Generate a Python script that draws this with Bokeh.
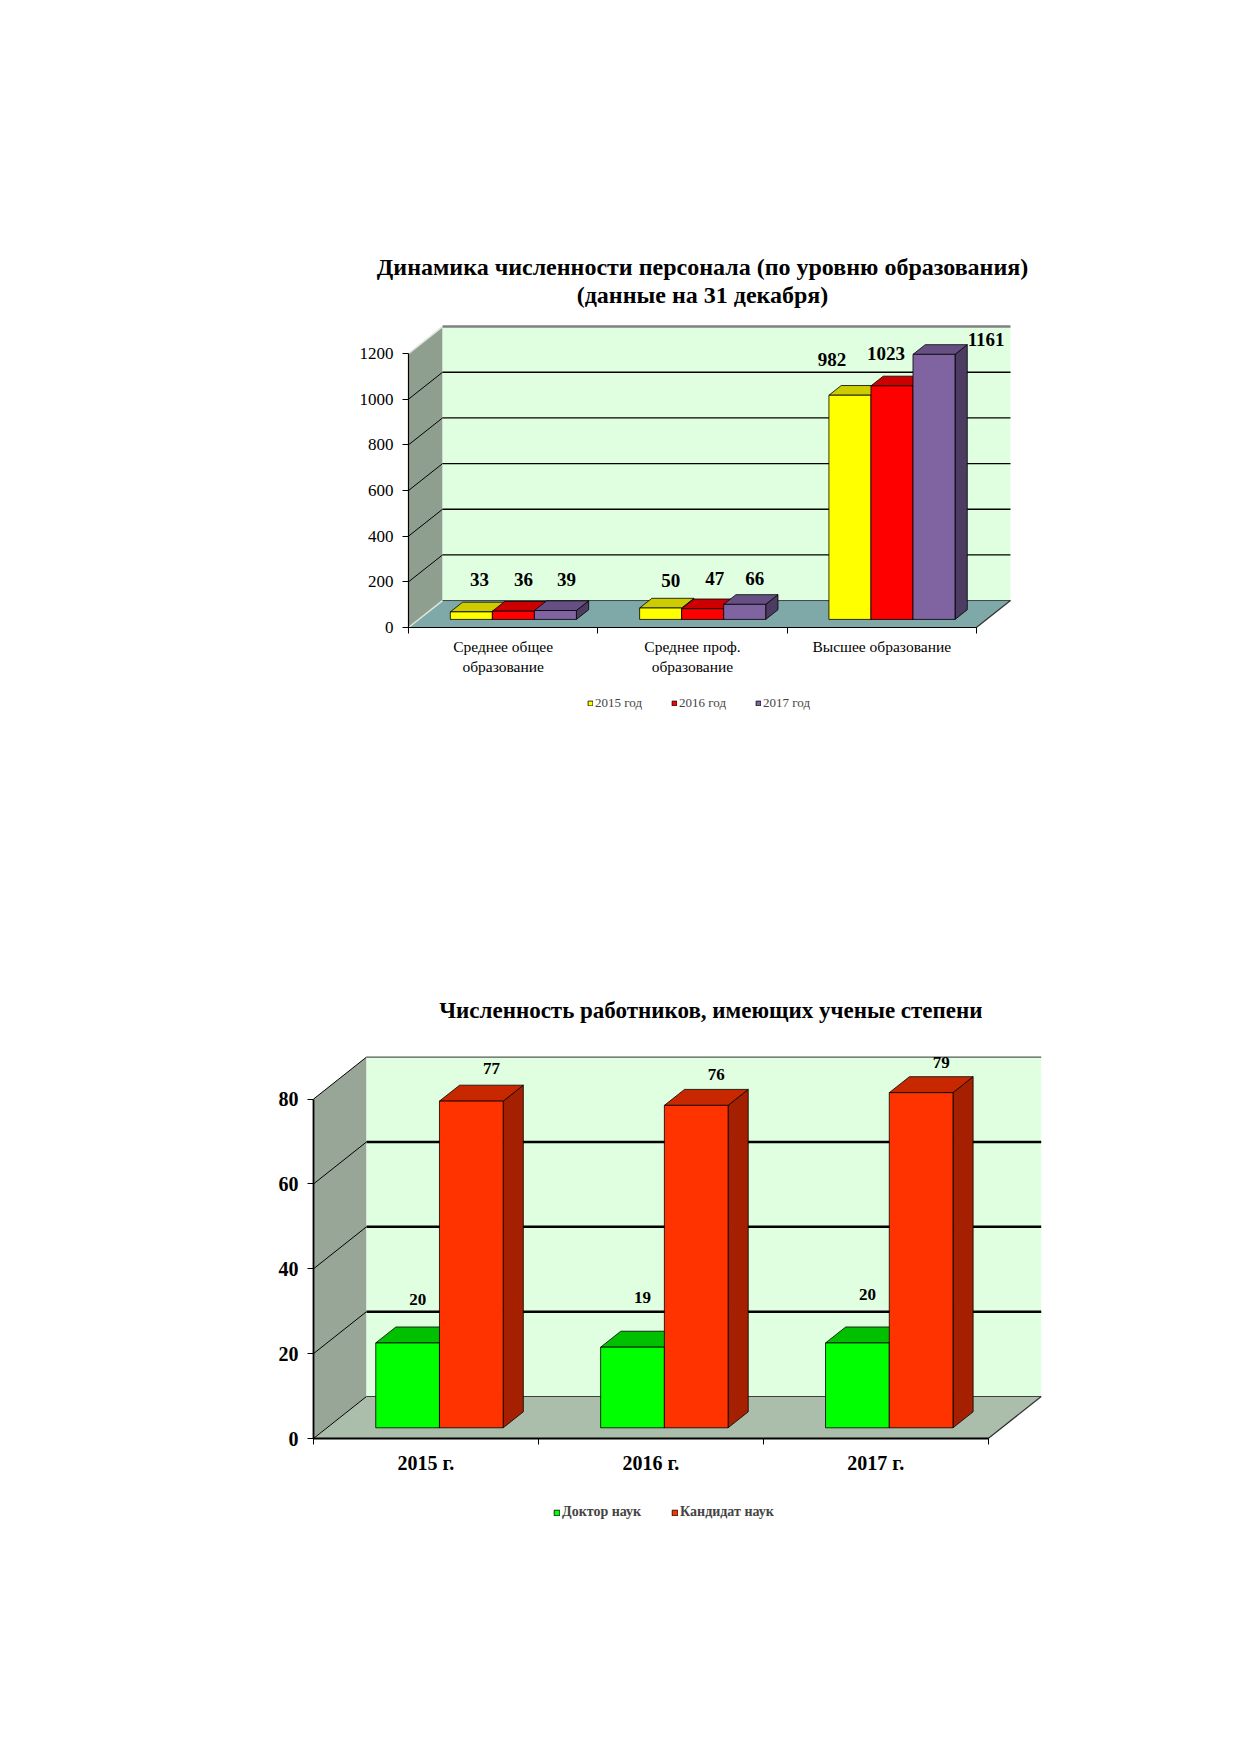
from bokeh.plotting import figure
from bokeh.models import Range1d, FixedTicker, Legend, LegendItem, ColumnDataSource
from bokeh.layouts import column
from bokeh.embed import file_html
from bokeh.resources import INLINE
from bokeh.core.properties import value

# ---------------- data: chart 1 ----------------
edu_titles = ["Динамика численности персонала (по уровню образования)", "(данные на 31 декабря)"]
edu_categories = ["Среднее общее\nобразование", "Среднее проф.\nобразование", "Высшее образование"]
edu_series = ["2015 год", "2016 год", "2017 год"]
edu_2015 = [33, 50, 982]
edu_2016 = [36, 47, 1023]
edu_2017 = [39, 66, 1161]
edu_ticks = [0, 200, 400, 600, 800, 1000, 1200]

# ---------------- data: chart 2 ----------------
deg_titles = ["Численность работников, имеющих ученые степени"]
deg_categories = ["2015 г.", "2016 г.", "2017 г."]
deg_series = ["Доктор наук", "Кандидат наук"]
deg_doctor = [20, 19, 20]
deg_candidate = [77, 76, 79]
deg_ticks = [0, 20, 40, 60, 80]

FONT = "Liberation Serif"

# ---------------- styles / layout ----------------
FRAME_LEFT = 250
FRAME_W = 900

cfg1 = dict(sx=189.3, sy=0.2283, x0_px=158, y0_px=627, fh=760, mbb=80,
            DX=0.18, DY=118, BW=0.222, G=0.167, F=0.3, B=0.36,
            back="#e0ffe0", wall="#8f9f8f", floor="#7fa8a8",
            grid_w=1.3, top_edge="#808080", top_edge_w=2.5, diag_from=1,
            light_edges=True,
            fronts=["#ffff00", "#ff0000", "#8064a2"],
            tops=["#cccc00", "#cc0000", "#665083"],
            sides=["#999900", "#990000", "#4c3c61"],
            lab_dx=[[2, 4, -24], [4, 6, -12], [5, 4, 46]],
            lab_dy=[[-23, -18, -26], [-22, -20, -23], [-21, -16, -5]],
            val_size="19px", tick_size="17px", tick_style="normal",
            cat_size="15.5px", cat_style="normal", cat_standoff=4,
            leg_size="13px", leg_style="normal", leg_glyph=6, leg_spacing=29,
            leg_loc=(337, 49),
            title_size="24px", title_dx=-24, title_dy=[-60, -32], axis_w=1.2)
cfg2 = dict(sx=224.9, sy=4.2425, x0_px=63, y0_px=598, fh=720, mbb=80,
            DX=0.2357, DY=9.9, BW=0.2833, G=0.2167, F=0.255, B=0.38,
            back="#e0ffe0", wall="#98a698", floor="#abbdab",
            grid_w=2.5, top_edge="#303030", top_edge_w=1, diag_from=0,
            light_edges=False,
            fronts=["#00ff00", "#ff3300"],
            tops=["#00c000", "#c82800"],
            sides=["#009900", "#a52000"],
            lab_dx=[[0, 0, 0], [10, 10, 10]],
            lab_dy=[[-27, -34, -32], [-17, -15, -14]],
            val_size="17px", tick_size="20px", tick_style="bold",
            cat_size="20px", cat_style="bold", cat_standoff=7,
            leg_size="14px", leg_style="bold", leg_glyph=7, leg_spacing=30,
            leg_loc=(303, 40),
            title_size="23px", title_dx=7, title_dy=[-47], axis_w=1.8)


def chart3d(titles, categories, series_names, series_values, ticks, c):
    n = len(categories)
    ymax = ticks[-1]
    DX, DY = c["DX"], c["DY"]
    xr = Range1d(-c["x0_px"] / c["sx"], (FRAME_W - c["x0_px"]) / c["sx"])
    yr = Range1d(-(c["fh"] - c["y0_px"]) / c["sy"], c["y0_px"] / c["sy"])
    p = figure(frame_width=FRAME_W, frame_height=c["fh"], title=None,
               x_range=xr, y_range=yr,
               output_backend="svg", toolbar_location=None,
               min_border_left=FRAME_LEFT, min_border_right=20,
               min_border_top=0, min_border_bottom=c["mbb"])
    p.xgrid.visible = False
    p.ygrid.visible = False
    p.outline_line_color = None
    p.background_fill_color = "white"

    # walls and floor
    p.patch([0, 0, DX, DX], [0, ymax, ymax + DY, DY], fill_color=c["wall"], line_color=None)
    p.patch([0, n, n + DX, DX], [0, 0, DY, DY], fill_color=c["floor"], line_color=None)
    p.patch([DX, n + DX, n + DX, DX], [DY, DY, ymax + DY, ymax + DY],
            fill_color=c["back"], line_color=None)
    inner = [t for t in ticks if 0 < t < ymax]
    p.segment(x0=[DX] * len(inner), y0=[t + DY for t in inner],
              x1=[n + DX] * len(inner), y1=[t + DY for t in inner],
              line_color="black", line_width=c["grid_w"])
    if c["diag_from"]:
        diag = [t for t in ticks if ticks[c["diag_from"]] <= t < ymax]
    else:
        diag = list(ticks)
    p.segment(x0=[0] * len(diag), y0=diag, x1=[DX] * len(diag), y1=[t + DY for t in diag],
              line_color="black", line_width=1)
    if c["light_edges"]:
        p.segment(x0=[0, 0], y0=[0, ymax], x1=[DX, DX], y1=[DY, ymax + DY],
                  line_color="#dfe6df", line_width=1.5)
    p.line([DX, n + DX], [ymax + DY, ymax + DY], line_color=c["top_edge"], line_width=c["top_edge_w"])
    p.line([DX, n + DX], [DY, DY], line_color="#404040", line_width=1)
    p.line([n, n + DX], [0, DY], line_color="#303030", line_width=1.2)

    # 3D bars
    BW, G, F, B = c["BW"], c["G"], c["F"], c["B"]
    ddx, ddy = B * DX, B * DY
    fronts = []
    for s, vals in enumerate(series_values):
        lefts = [k + G + s * BW + F * DX for k in range(n)]
        rights = [l + BW for l in lefts]
        bottoms = [F * DY] * n
        tops = [v + F * DY for v in vals]
        p.patches([[r, r + ddx, r + ddx, r] for r in rights],
                  [[b, b + ddy, t + ddy, t] for b, t in zip(bottoms, tops)],
                  fill_color=c["sides"][s], line_color="black", line_width=0.8)
        p.patches([[l, r, r + ddx, l + ddx] for l, r in zip(lefts, rights)],
                  [[t, t, t + ddy, t + ddy] for t in tops],
                  fill_color=c["tops"][s], line_color="black", line_width=0.8)
        fr = p.quad(left=lefts, right=rights, bottom=bottoms, top=tops,
                    fill_color=c["fronts"][s], line_color="black", line_width=0.8)
        fronts.append(fr)
        src = ColumnDataSource(dict(
            x=[l + BW / 2 + ddx / 2 for l in lefts],
            y=[t + ddy for t in tops],
            text=[str(v) for v in vals],
            xo=c["lab_dx"][s], yo=c["lab_dy"][s]))
        p.text(x="x", y="y", text="text", x_offset="xo", y_offset="yo", source=src,
               text_font=value(FONT), text_font_size=value(c["val_size"]),
               text_font_style="bold", text_align="center", text_baseline="middle",
               text_color="black")

    # title lines, centred over the back wall
    tsrc = ColumnDataSource(dict(
        x=[(n + 2 * DX) / 2] * len(titles), y=[ymax + DY] * len(titles),
        text=titles, xo=[c["title_dx"]] * len(titles), yo=c["title_dy"]))
    p.text(x="x", y="y", text="text", x_offset="xo", y_offset="yo", source=tsrc,
           text_font=value(FONT), text_font_size=value(c["title_size"]),
           text_font_style="bold", text_align="center", text_baseline="middle",
           text_color="black")

    # axes, pinned to the front corner of the chart (x = 0, y = 0)
    ya = p.yaxis[0]
    ya.fixed_location = 0
    ya.ticker = FixedTicker(ticks=ticks)
    ya.bounds = (0, ymax)
    ya.axis_line_color = "black"
    ya.axis_line_width = c["axis_w"]
    ya.major_tick_in = 0
    ya.major_tick_out = 6
    ya.minor_tick_line_color = None
    ya.major_label_standoff = 9
    ya.major_label_text_font = FONT
    ya.major_label_text_font_size = c["tick_size"]
    ya.major_label_text_font_style = c["tick_style"]
    ya.major_label_text_color = "black"

    xa = p.xaxis[0]
    xa.fixed_location = 0
    xa.ticker = FixedTicker(ticks=[k + 0.5 for k in range(n)], minor_ticks=list(range(n + 1)))
    xa.bounds = (0, n)
    xa.axis_line_color = "black"
    xa.axis_line_width = c["axis_w"]
    xa.major_tick_in = 0
    xa.major_tick_out = 0
    xa.major_tick_line_color = None
    xa.minor_tick_in = 0
    xa.minor_tick_out = 6
    xa.minor_tick_line_color = "black"
    xa.major_label_overrides = {k + 0.5: cat for k, cat in enumerate(categories)}
    xa.major_label_standoff = c["cat_standoff"]
    xa.major_label_text_font = FONT
    xa.major_label_text_font_size = c["cat_size"]
    xa.major_label_text_font_style = c["cat_style"]
    xa.major_label_text_color = "black"

    legend = Legend(items=[LegendItem(label=nm, renderers=[r]) for nm, r in zip(series_names, fronts)],
                    orientation="horizontal", location=c["leg_loc"],
                    label_text_font=FONT, label_text_font_size=c["leg_size"],
                    label_text_font_style=c["leg_style"],
                    glyph_width=c["leg_glyph"], glyph_height=c["leg_glyph"],
                    label_standoff=2, spacing=c["leg_spacing"], padding=0, margin=0,
                    label_height=12, border_line_color=None, background_fill_alpha=0)
    p.add_layout(legend)
    return p


p1 = chart3d(edu_titles, edu_categories, edu_series,
             [edu_2015, edu_2016, edu_2017], edu_ticks, cfg1)
p2 = chart3d(deg_titles, deg_categories, deg_series,
             [deg_doctor, deg_candidate], deg_ticks, cfg2)

page = column(p1, p2)
open("out.html", "w").write(file_html(page, INLINE))
